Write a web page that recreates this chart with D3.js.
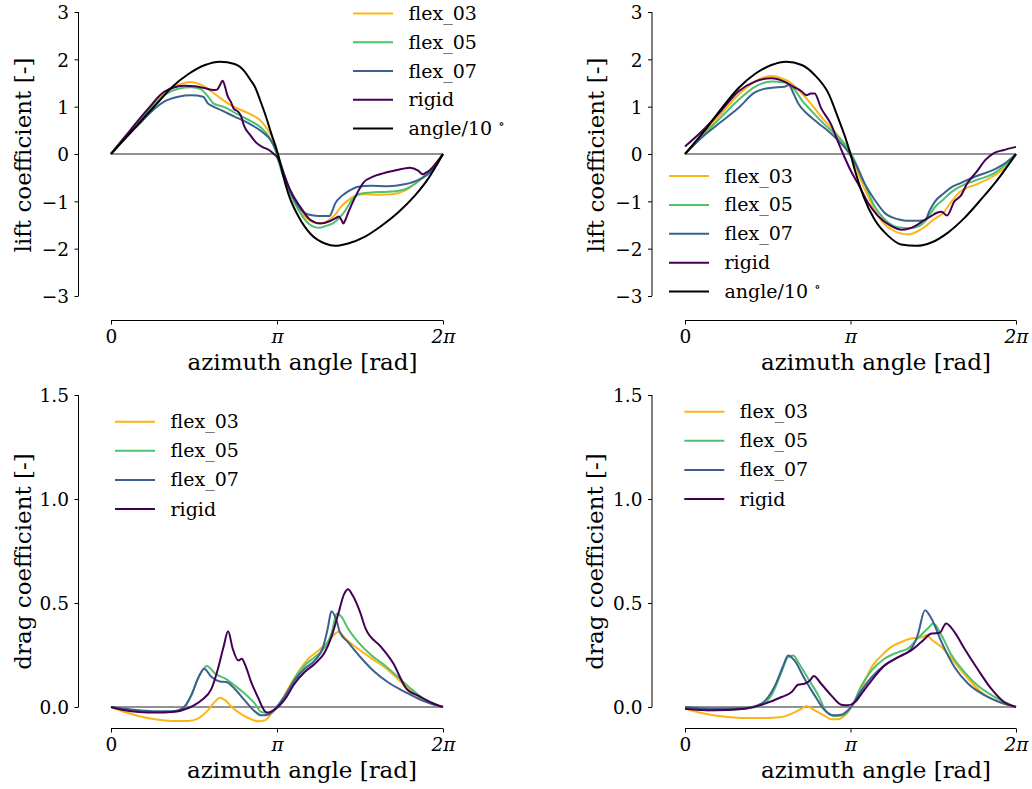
<!DOCTYPE html>
<html>
<head>
<meta charset="utf-8">
<script src="https://cdn.jsdelivr.net/npm/d3@7"></script>
<style>
  html, body { margin: 0; padding: 0; background: #ffffff; }
  svg { display: block; }
  text { font-family: "DejaVu Serif", serif; fill: #000; }
</style>
</head>
<body>
<svg id="chart" width="1032" height="789"></svg>
<script>
// Series names, in legend order
const seriesNames = ["flex_03", "flex_05", "flex_07", "rigid", "angle"];
const seriesLabels = ["flex_03", "flex_05", "flex_07", "rigid", "angle/10"];
const seriesColors = ["#fdb515", "#4cc26c", "#3b6190", "#440154", "#000000"];

// Axis ticks
const xTickValues = [0, Math.PI, 2 * Math.PI];
const xTickLabels = ["0", "π", "2π"];
const liftTicks = [-3, -2, -1, 0, 1, 2, 3];
const dragTicks = [0, 0.5, 1.0, 1.5];

// Lift coefficient, left case: [azimuth in degrees, value]
const liftL_flex03 = [[0,0],[15,0.36],[30,0.71],[44,1.04],[58,1.30],[73,1.46],[86,1.52],[98,1.46],[109,1.32],[120,1.16],[131,1.02],[141,0.93],[152,0.83],[163,0.69],[170,0.51],[176,0.30],[180,0.06],[183,-0.19],[190,-0.61],[199,-1.03],[210,-1.31],[221,-1.45],[228,-1.46],[236,-1.40],[243,-1.28],[250,-1.10],[257,-0.98],[265,-0.88],[275,-0.85],[290,-0.86],[305,-0.85],[318,-0.78],[328,-0.65],[337,-0.52],[351,-0.22],[360,0]];
const liftL_flex05 = [[0,0],[15,0.36],[30,0.69],[44,1.00],[58,1.25],[73,1.38],[87,1.41],[97,1.37],[105,1.22],[111,1.07],[123,0.99],[138,0.83],[152,0.69],[163,0.55],[172,0.34],[178,0.09],[181,-0.12],[188,-0.54],[199,-1.03],[210,-1.38],[220,-1.54],[226,-1.56],[233,-1.52],[241,-1.46],[252,-1.25],[263,-0.93],[270,-0.84],[285,-0.81],[300,-0.80],[318,-0.75],[333,-0.58],[347,-0.33],[360,0]];
const liftL_flex07 = [[0,0],[15,0.32],[30,0.62],[44,0.90],[58,1.11],[73,1.21],[87,1.24],[100,1.21],[105,1.07],[109,1.02],[120,0.92],[134,0.79],[149,0.65],[163,0.48],[174,0.27],[180,0.03],[185,-0.26],[192,-0.68],[203,-1.10],[214,-1.28],[225,-1.31],[237,-1.31],[240,-1.20],[243,-1.05],[250,-0.89],[257,-0.79],[268,-0.69],[282,-0.67],[300,-0.68],[318,-0.64],[333,-0.55],[347,-0.37],[360,0]];
const liftL_rigid = [[0,0],[15,0.36],[30,0.72],[44,1.04],[50,1.18],[58,1.32],[69,1.41],[80,1.44],[91,1.43],[102,1.39],[111,1.35],[115,1.36],[118,1.45],[121,1.55],[124,1.40],[126,1.25],[130,1.10],[133,0.96],[138,0.89],[141,0.80],[144,0.61],[151,0.40],[158,0.23],[165,0.14],[171,0.09],[176,0.01],[181,-0.09],[188,-0.45],[194,-0.75],[205,-1.11],[216,-1.39],[227,-1.47],[237,-1.42],[244,-1.35],[247,-1.32],[250,-1.40],[252,-1.47],[254,-1.40],[257,-1.25],[265,-0.90],[274,-0.60],[284,-0.48],[295,-0.41],[310,-0.34],[324,-0.29],[333,-0.35],[338,-0.43],[342,-0.39],[346,-0.34],[353,-0.18],[360,0]];
const liftL_angle = [[0,0],[15,0.32],[30,0.64],[40,0.86],[50,1.07],[66,1.41],[84,1.69],[102,1.88],[118,1.95],[134,1.90],[145,1.74],[151,1.57],[156,1.42],[162,1.12],[167,0.85],[174,0.42],[181,0],[187,-0.48],[193,-0.88],[203,-1.31],[217,-1.70],[232,-1.89],[243,-1.94],[257,-1.89],[275,-1.75],[293,-1.52],[311,-1.24],[329,-0.89],[344,-0.52],[360,0]];

// Lift coefficient, right case
const liftR_flex03 = [[0,0],[22,0.48],[40,0.86],[58,1.25],[76,1.53],[94,1.65],[105,1.60],[116,1.49],[127,1.28],[138,1.04],[148,0.79],[159,0.55],[170,0.30],[179,0.02],[188,-0.40],[199,-0.89],[210,-1.31],[224,-1.59],[243,-1.70],[257,-1.59],[271,-1.38],[281,-1.24],[290,-1.00],[299,-0.80],[317,-0.64],[335,-0.47],[350,-0.25],[360,0]];
const liftR_flex05 = [[0,0],[22,0.44],[40,0.79],[58,1.14],[76,1.42],[94,1.53],[108,1.51],[118,1.39],[127,1.14],[138,0.90],[152,0.62],[166,0.37],[177,0.13],[184,-0.12],[195,-0.61],[206,-1.10],[217,-1.38],[230,-1.54],[245,-1.57],[255,-1.52],[262,-1.40],[272,-1.12],[281,-0.96],[290,-0.80],[299,-0.69],[317,-0.55],[335,-0.42],[350,-0.20],[360,0]];
const liftR_flex07 = [[0,0],[22,0.41],[40,0.69],[58,0.97],[76,1.30],[85,1.37],[95,1.40],[108,1.42],[113,1.46],[117,1.32],[123,1.07],[134,0.83],[145,0.65],[156,0.48],[166,0.30],[177,0.06],[185,-0.19],[195,-0.61],[206,-0.96],[217,-1.24],[232,-1.38],[240,-1.41],[255,-1.41],[261,-1.40],[266,-1.20],[272,-1.00],[281,-0.84],[290,-0.70],[299,-0.62],[318,-0.46],[336,-0.33],[350,-0.17],[360,0]];
const liftR_rigid = [[0,0.16],[22,0.55],[40,0.93],[58,1.32],[76,1.53],[94,1.60],[108,1.53],[118,1.42],[127,1.32],[132,1.24],[137,1.28],[141,1.28],[148,0.97],[159,0.62],[166,0.28],[172,0],[181,-0.38],[188,-0.62],[199,-1.03],[210,-1.31],[224,-1.52],[236,-1.60],[246,-1.56],[253,-1.49],[260,-1.40],[268,-1.31],[274,-1.24],[279,-1.22],[285,-1.30],[293,-1.00],[300,-0.88],[307,-0.62],[317,-0.38],[327,-0.12],[336,0.02],[346,0.08],[360,0.15]];
const liftR_angle = [[0,0],[22,0.51],[40,0.97],[58,1.39],[76,1.69],[94,1.88],[110,1.95],[127,1.88],[141,1.67],[156,1.28],[166,0.79],[174,0.37],[180,0],[185,-0.36],[194,-0.89],[206,-1.38],[221,-1.73],[235,-1.91],[252,-1.94],[268,-1.87],[286,-1.66],[304,-1.35],[322,-0.96],[340,-0.54],[360,0]];

// Drag coefficient, left case
const dragL_flex03 = [[0,0],[15,-0.024],[30,-0.043],[48,-0.059],[66,-0.067],[84,-0.067],[94,-0.056],[105,-0.016],[113,0.027],[118,0.045],[124,0.032],[131,0],[142,-0.037],[152,-0.059],[160,-0.069],[167,-0.064],[174,-0.032],[181,0],[192,0.088],[203,0.168],[214,0.232],[225,0.272],[235,0.312],[243,0.353],[247,0.362],[254,0.329],[268,0.280],[282,0.235],[297,0.190],[311,0.135],[326,0.075],[340,0.030],[360,0]];
const dragL_flex05 = [[0,0],[15,-0.011],[30,-0.021],[48,-0.024],[66,-0.024],[77,-0.016],[87,0.056],[96,0.152],[104,0.197],[113,0.160],[124,0.136],[134,0.104],[145,0.064],[156,0.016],[163,-0.024],[170,-0.029],[178,-0.008],[189,0.056],[199,0.136],[210,0.200],[221,0.240],[232,0.288],[239,0.353],[245,0.449],[250,0.433],[257,0.377],[268,0.312],[282,0.250],[297,0.200],[311,0.145],[326,0.085],[340,0.035],[360,0]];
const dragL_flex07 = [[0,0],[30,-0.016],[48,-0.021],[66,-0.021],[77,-0.008],[87,0.056],[95,0.144],[101,0.184],[109,0.144],[118,0.123],[125,0.120],[134,0.088],[145,0.032],[156,-0.021],[163,-0.040],[170,-0.037],[178,-0.008],[189,0.056],[199,0.128],[210,0.184],[221,0.224],[230,0.288],[235,0.377],[239,0.460],[245,0.409],[248,0.361],[257,0.312],[272,0.232],[286,0.168],[300,0.120],[319,0.072],[337,0.032],[360,0]];
const dragL_rigid = [[0,0],[15,-0.016],[30,-0.024],[48,-0.027],[66,-0.024],[84,-0.005],[98,0.032],[109,0.088],[116,0.184],[122,0.288],[127,0.364],[132,0.280],[138,0.224],[142,0.232],[145,0.208],[152,0.120],[160,0.040],[167,-0.021],[170,-0.027],[178,-0.011],[189,0.040],[199,0.112],[210,0.168],[221,0.208],[232,0.264],[239,0.337],[246,0.441],[253,0.545],[257,0.566],[262,0.537],[270,0.457],[276,0.378],[293,0.288],[306,0.210],[320,0.090],[335,0.050],[349,0.018],[360,0]];

// Drag coefficient, right case
const dragR_flex03 = [[0,-0.008],[22,-0.032],[47,-0.048],[65,-0.053],[87,-0.053],[105,-0.048],[116,-0.032],[127,-0.008],[132,0.005],[141,-0.016],[152,-0.043],[159,-0.059],[166,-0.059],[174,-0.040],[181,0],[192,0.088],[203,0.192],[214,0.248],[224,0.288],[235,0.312],[246,0.329],[257,0.335],[263,0.345],[268,0.325],[279,0.288],[293,0.216],[308,0.136],[322,0.072],[340,0.027],[360,0]];
const dragR_flex05 = [[0,0],[29,-0.016],[65,-0.008],[83,0.008],[94,0.056],[105,0.168],[112,0.240],[118,0.248],[123,0.216],[134,0.136],[145,0.056],[154,-0.024],[163,-0.043],[172,-0.040],[181,0],[192,0.104],[203,0.176],[217,0.232],[232,0.264],[242,0.280],[253,0.329],[264,0.377],[270,0.401],[279,0.345],[289,0.256],[304,0.168],[318,0.104],[337,0.048],[360,0]];
const dragR_flex07 = [[0,0],[29,-0.008],[65,-0.005],[83,0.016],[98,0.104],[107,0.200],[112,0.248],[119,0.224],[130,0.136],[141,0.056],[152,-0.016],[161,-0.040],[170,-0.037],[179,-0.008],[192,0.080],[203,0.144],[217,0.200],[232,0.240],[246,0.280],[253,0.345],[261,0.465],[268,0.425],[279,0.312],[293,0.192],[308,0.112],[326,0.056],[340,0.027],[360,0]];
const dragR_rigid = [[0,-0.008],[29,-0.016],[65,-0.008],[87,0.016],[105,0.048],[116,0.072],[123,0.107],[130,0.112],[136,0.128],[140,0.149],[148,0.112],[159,0.056],[170,0.011],[177,0.008],[185,0.024],[192,0.064],[203,0.128],[217,0.200],[232,0.240],[246,0.272],[257,0.312],[268,0.353],[277,0.357],[284,0.401],[293,0.361],[304,0.280],[318,0.184],[333,0.088],[347,0.024],[360,0]];

const svg = d3.select("#chart");
const toRad = d => d * Math.PI / 180;

const TICK_FONT = 18.5;
const LABEL_FONT = 23;
const LEGEND_FONT = 19;
const LINE_W = 2;

function drawPanel(p) {
  const g = svg.append("g");
  const x = d3.scaleLinear().domain([0, 2 * Math.PI]).range(p.xRange);
  const y = d3.scaleLinear().domain(p.yDomain).range(p.yRange);

  // zero reference line
  g.append("line")
    .attr("x1", x(0)).attr("x2", x(2 * Math.PI))
    .attr("y1", y(0)).attr("y2", y(0))
    .attr("stroke", "#6e6e6e").attr("stroke-width", 1.3);

  const line = d3.line()
    .x(d => x(toRad(d[0])))
    .y(d => y(d[1]))
    .curve(d3.curveMonotoneX);

  p.series.forEach(s => {
    g.append("path")
      .datum(s.values)
      .attr("fill", "none")
      .attr("stroke", s.color)
      .attr("stroke-width", LINE_W)
      .attr("stroke-linejoin", "round")
      .attr("d", line);
  });

  // left spine, trimmed to the tick range
  const ticksY = p.yTicks;
  const yAxis = d3.axisLeft(y).tickValues(ticksY).tickSize(4).tickPadding(6)
    .tickFormat(p.yFormat);
  const ya = g.append("g").attr("transform", `translate(${p.spineX},0)`).call(yAxis);
  ya.select(".domain").remove();
  ya.append("line")
    .attr("x1", 0).attr("x2", 0)
    .attr("y1", y(d3.min(ticksY))).attr("y2", y(d3.max(ticksY)))
    .attr("stroke", "#000").attr("stroke-width", 1);
  ya.selectAll(".tick line").attr("stroke", "#000");
  ya.selectAll(".tick text")
    .attr("font-family", "DejaVu Serif").attr("font-size", TICK_FONT)
    .attr("dy", null).attr("y", 6.7).attr("x", -9.5)
    .attr("fill", "#000");

  // bottom spine, trimmed to 0..2π
  const xAxis = d3.axisBottom(x).tickValues(xTickValues).tickSize(4)
    .tickFormat((d, i) => xTickLabels[i]);
  const xa = g.append("g").attr("transform", `translate(0,${p.spineY})`).call(xAxis);
  xa.select(".domain").remove();
  xa.append("line")
    .attr("x1", x(0)).attr("x2", x(2 * Math.PI))
    .attr("y1", 0).attr("y2", 0)
    .attr("stroke", "#000").attr("stroke-width", 1);
  xa.selectAll(".tick line").attr("stroke", "#000");
  xa.selectAll(".tick text")
    .attr("font-family", "DejaVu Serif").attr("font-size", TICK_FONT)
    .attr("dy", null).attr("y", 22.5)
    .attr("font-style", (d, i) => i === 0 ? "normal" : "italic")
    .attr("fill", "#000");

  // axis titles
  g.append("text")
    .attr("x", p.xLabel[0]).attr("y", p.xLabel[1])
    .attr("text-anchor", "middle").attr("font-size", LABEL_FONT)
    .text("azimuth angle [rad]");
  g.append("text")
    .attr("transform", `translate(${p.yLabel[0]},${p.yLabel[1]}) rotate(-90)`)
    .attr("text-anchor", "middle").attr("font-size", LABEL_FONT)
    .text(p.yTitle);

  // legend
  p.series.forEach((s, i) => {
    const ry = p.legend.y + i * p.legend.step;
    g.append("line")
      .attr("x1", p.legend.x).attr("x2", p.legend.x + 40)
      .attr("y1", ry).attr("y2", ry)
      .attr("stroke", s.color).attr("stroke-width", LINE_W);
    const t = g.append("text")
      .attr("x", p.legend.x + 55.5).attr("y", ry + 6.5)
      .attr("font-size", LEGEND_FONT)
      .text(s.label);
    if (s.name === "angle") {
      t.append("tspan").text(" ");
      t.append("tspan").attr("font-size", 13).attr("dy", -7.5).text("∘");
    }
  });
}

function makeSeries(values) {
  return values.map((v, i) => ({
    name: seriesNames[i], label: seriesLabels[i], color: seriesColors[i], values: v
  }));
}

const liftFormat = d => d < 0 ? "\u2212" + Math.abs(d) : String(d);
const dragFormat = d3.format(".1f");

drawPanel({
  xRange: [111, 443], yDomain: [-3, 3], yRange: [296, 12],
  spineX: 78.5, spineY: 320.5, yTicks: liftTicks, yFormat: liftFormat,
  xLabel: [302.5, 370], yLabel: [31, 155], yTitle: "lift coefficient [-]",
  legend: { x: 353, y: 13.5, step: 28.75 },
  series: makeSeries([liftL_flex03, liftL_flex05, liftL_flex07, liftL_rigid, liftL_angle])
});
drawPanel({
  xRange: [685, 1016], yDomain: [-3, 3], yRange: [296, 12],
  spineX: 652, spineY: 320.5, yTicks: liftTicks, yFormat: liftFormat,
  xLabel: [876, 370], yLabel: [604, 155], yTitle: "lift coefficient [-]",
  legend: { x: 669, y: 176, step: 28.9 },
  series: makeSeries([liftR_flex03, liftR_flex05, liftR_flex07, liftR_rigid, liftR_angle])
});
drawPanel({
  xRange: [111, 443], yDomain: [0, 1.5], yRange: [707, 395],
  spineX: 78.5, spineY: 728.5, yTicks: dragTicks, yFormat: dragFormat,
  xLabel: [302, 778], yLabel: [31, 561.5], yTitle: "drag coefficient [-]",
  legend: { x: 115, y: 421.7, step: 29.1 },
  series: makeSeries([dragL_flex03, dragL_flex05, dragL_flex07, dragL_rigid])
});
drawPanel({
  xRange: [685, 1016], yDomain: [0, 1.5], yRange: [707, 395],
  spineX: 652, spineY: 728.5, yTicks: dragTicks, yFormat: dragFormat,
  xLabel: [876, 778], yLabel: [603, 561.5], yTitle: "drag coefficient [-]",
  legend: { x: 684.3, y: 411.7, step: 29.1 },
  series: makeSeries([dragR_flex03, dragR_flex05, dragR_flex07, dragR_rigid])
});
</script>
</body>
</html>
